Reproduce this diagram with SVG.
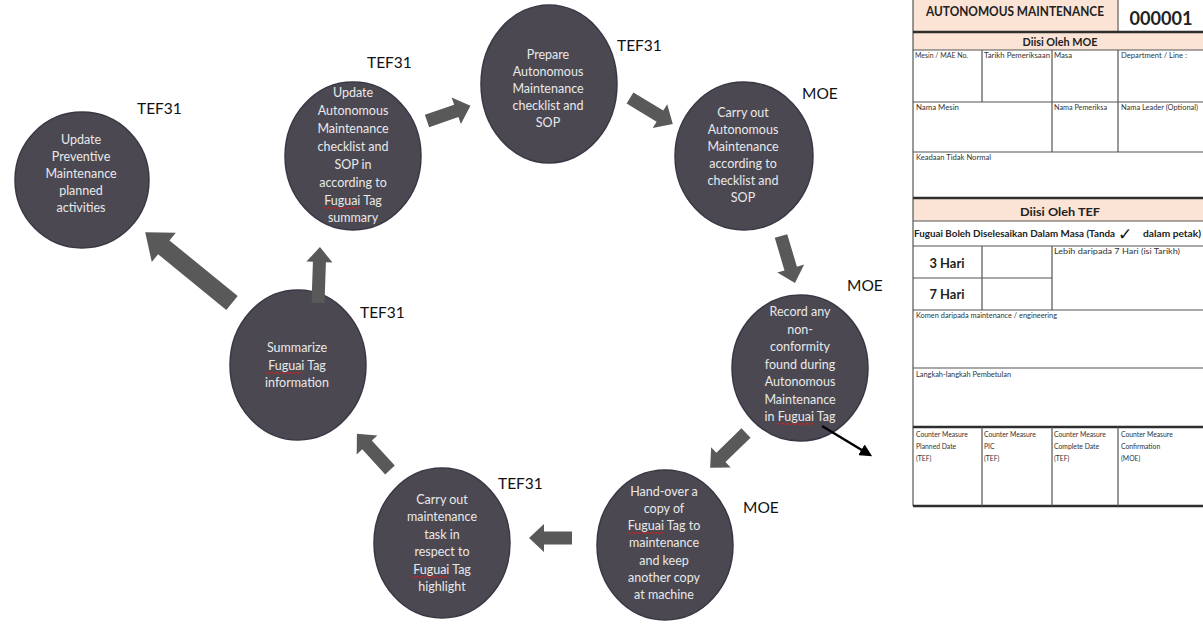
<svg xmlns="http://www.w3.org/2000/svg" xmlns:xlink="http://www.w3.org/1999/xlink" width="1203" height="625" viewBox="0 0 1203 625">
  <style>
    .bubble { fill: #4b4852; stroke: #3a3745; stroke-width: 1.5; }
    .step { font-family: Lato, "Liberation Sans", sans-serif; font-size: 12.5px; fill: #e9e9e9; text-anchor: middle; }
    .role { font-family: Lato, "Liberation Sans", sans-serif; font-size: 15.5px; fill: #111; }
    .flow { fill: #595959; }
    .squiggle { fill: none; stroke: #d42020; stroke-width: 1; }
    .cell { fill: none; stroke: #666; stroke-width: 1.2; }
    .rule { stroke: #555; stroke-width: 1.2; }
    .heavy { stroke: #2e2e2e; stroke-width: 2.5; }
    .band { fill: #fbe4d5; }
    .lbl { font-family: Lato, "Liberation Sans", sans-serif; font-size: 6.8px; fill: #333; }
    .hd { font-family: Lato, "Liberation Sans", sans-serif; font-weight: bold; fill: #222; }
  </style>
  <defs>
    <path id="wavy" class="squiggle" d="M0,0 q1.2,-1.6 2.4,0 t2.4,0 t2.4,0 t2.4,0 t2.4,0 t2.4,0 t2.4,0 t2.4,0 t2.4,0 t2.4,0 t2.4,0 t2.4,0 t2.4,0 t2.4,0 t2.4,0"/>
    <marker id="tip" viewBox="0 0 10 10" refX="8" refY="5" markerWidth="5" markerHeight="5" orient="auto" markerUnits="strokeWidth">
      <path d="M0,0 L10,5 L0,10 z" fill="#000"/>
    </marker>
  </defs>

  <rect width="1203" height="625" fill="#fff"/>

  <!-- process steps -->
  <g id="step-update-pm">
    <ellipse class="bubble" cx="82" cy="180" rx="67" ry="68"/>
    <text class="step" x="81" y="144">Update</text>
    <text class="step" x="81" y="161">Preventive</text>
    <text class="step" x="81" y="178">Maintenance</text>
    <text class="step" x="81" y="195">planned</text>
    <text class="step" x="81" y="212">activities</text>
    <text class="role" x="137" y="114">TEF31</text>
  </g>

  <g id="step-update-am">
    <ellipse class="bubble" cx="353" cy="156" rx="68" ry="74"/>
    <text class="step" x="353" y="97">Update</text>
    <text class="step" x="353" y="115">Autonomous</text>
    <text class="step" x="353" y="133">Maintenance</text>
    <text class="step" x="353" y="151">checklist and</text>
    <text class="step" x="353" y="169">SOP in</text>
    <text class="step" x="353" y="187">according to</text>
    <text class="step" x="353" y="205">Fuguai Tag</text>
    <text class="step" x="353" y="222">summary</text>
    <use href="#wavy" x="323" y="208" transform="scale(1)"/>
    <text class="role" x="367" y="68">TEF31</text>
  </g>

  <g id="step-prepare-am">
    <ellipse class="bubble" cx="549" cy="84" rx="68" ry="79"/>
    <text class="step" x="548" y="59">Prepare</text>
    <text class="step" x="548" y="76">Autonomous</text>
    <text class="step" x="548" y="93">Maintenance</text>
    <text class="step" x="548" y="110">checklist and</text>
    <text class="step" x="548" y="127">SOP</text>
    <text class="role" x="617" y="51">TEF31</text>
  </g>

  <g id="step-carry-out-am">
    <ellipse class="bubble" cx="744" cy="156" rx="69" ry="74"/>
    <text class="step" x="743" y="117">Carry out</text>
    <text class="step" x="743" y="134">Autonomous</text>
    <text class="step" x="743" y="151">Maintenance</text>
    <text class="step" x="743" y="168">according to</text>
    <text class="step" x="743" y="185">checklist and</text>
    <text class="step" x="743" y="202">SOP</text>
    <text class="role" x="802" y="99">MOE</text>
  </g>

  <g id="step-record">
    <ellipse class="bubble" cx="800" cy="368" rx="68" ry="73"/>
    <text class="step" x="800" y="316">Record any</text>
    <text class="step" x="800" y="333.5">non-</text>
    <text class="step" x="800" y="351">conformity</text>
    <text class="step" x="800" y="368.5">found during</text>
    <text class="step" x="800" y="386">Autonomous</text>
    <text class="step" x="800" y="403.5">Maintenance</text>
    <text class="step" x="800" y="421">in Fuguai Tag</text>
    <use href="#wavy" x="777" y="424"/>
    <text class="role" x="847" y="291">MOE</text>
  </g>

  <g id="step-hand-over">
    <ellipse class="bubble" cx="665" cy="545" rx="68" ry="75"/>
    <text class="step" x="664" y="496">Hand-over a</text>
    <text class="step" x="664" y="513">copy of</text>
    <text class="step" x="664" y="530">Fuguai Tag to</text>
    <text class="step" x="664" y="547">maintenance</text>
    <text class="step" x="664" y="565">and keep</text>
    <text class="step" x="664" y="582">another copy</text>
    <text class="step" x="664" y="599">at machine</text>
    <use href="#wavy" x="627" y="533"/>
    <text class="role" x="743" y="513">MOE</text>
  </g>

  <g id="step-maintenance-task">
    <ellipse class="bubble" cx="442" cy="543" rx="68" ry="75"/>
    <text class="step" x="442" y="504">Carry out</text>
    <text class="step" x="442" y="521.4">maintenance</text>
    <text class="step" x="442" y="538.8">task in</text>
    <text class="step" x="442" y="556">respect to</text>
    <text class="step" x="442" y="573.6">Fuguai Tag</text>
    <text class="step" x="442" y="591">highlight</text>
    <use href="#wavy" x="411" y="577"/>
    <text class="role" x="498" y="489">TEF31</text>
  </g>

  <g id="step-summarize">
    <ellipse class="bubble" cx="298" cy="365" rx="68" ry="75"/>
    <text class="step" x="297" y="352">Summarize</text>
    <text class="step" x="297" y="370">Fuguai Tag</text>
    <text class="step" x="297" y="387">information</text>
    <use href="#wavy" x="266" y="373"/>
    <text class="role" x="360" y="318">TEF31</text>
  </g>

  <!-- connectors: block arrows drawn along +x, then placed -->
  <g id="connectors">
    <polygon class="flow" transform="translate(232,303) rotate(219.2)" points="0,-9 88,-9 88,-19 112,0 88,19 88,9 0,9"/>
    <polygon class="flow" transform="translate(318,303) rotate(-88)" points="0,-6.5 41,-6.5 41,-13 56,0 41,13 41,6.5 0,6.5"/>
    <polygon class="flow" transform="translate(427,121) rotate(-19.2)" points="0,-6.5 31,-6.5 31,-14 46,0 31,14 31,6.5 0,6.5"/>
    <polygon class="flow" transform="translate(630,98) rotate(31.2)" points="0,-6.5 35,-6.5 35,-14 50,0 35,14 35,6.5 0,6.5"/>
    <polygon class="flow" transform="translate(781,236) rotate(73.4)" points="0,-6.5 34,-6.5 34,-14 49,0 34,14 34,6.5 0,6.5"/>
    <polygon class="flow" transform="translate(746,433) rotate(135.8)" points="0,-6.5 35,-6.5 35,-14 50,0 35,14 35,6.5 0,6.5"/>
    <polygon class="flow" transform="translate(572,538) rotate(180)" points="0,-6.5 28,-6.5 28,-14 43,0 28,14 28,6.5 0,6.5"/>
    <polygon class="flow" transform="translate(390,470) rotate(227.5)" points="0,-6.5 34,-6.5 34,-14 49,0 34,14 34,6.5 0,6.5"/>
    <line x1="822" y1="426" x2="870" y2="455" stroke="#000" stroke-width="2.5" marker-end="url(#tip)"/>
  </g>

  <!-- Fuguai tag form -->
  <g id="form">
    <rect class="band" x="913" y="0" width="204" height="31"/>
    <rect x="1119" y="0" width="90" height="31" fill="#fff"/>
    <rect class="band" x="913" y="33" width="295" height="17"/>
    <rect class="band" x="913" y="199" width="295" height="22"/>

    <!-- outer frame and rules -->
    <line class="rule" x1="913" y1="0" x2="913" y2="506"/>
    <line class="rule" x1="1118" y1="0" x2="1118" y2="31"/>
    <line class="heavy" x1="913" y1="32" x2="1203" y2="32"/>
    <line class="rule" x1="913" y1="50" x2="1203" y2="50"/>
    <line class="rule" x1="913" y1="102" x2="1203" y2="102"/>
    <line class="rule" x1="913" y1="152" x2="1203" y2="152"/>
    <line class="heavy" x1="913" y1="198" x2="1203" y2="198"/>
    <line class="rule" x1="913" y1="221" x2="1203" y2="221"/>
    <line class="rule" x1="913" y1="246" x2="1203" y2="246"/>
    <line class="rule" x1="913" y1="278" x2="1052" y2="278"/>
    <line class="rule" x1="913" y1="310" x2="1203" y2="310"/>
    <line class="rule" x1="913" y1="368" x2="1203" y2="368"/>
    <line class="heavy" x1="913" y1="427" x2="1203" y2="427"/>
    <line class="heavy" x1="913" y1="506" x2="1203" y2="506"/>

    <line class="rule" x1="982" y1="50" x2="982" y2="102"/>
    <line class="rule" x1="1052" y1="50" x2="1052" y2="152"/>
    <line class="rule" x1="1118" y1="50" x2="1118" y2="152"/>
    <line class="rule" x1="982" y1="246" x2="982" y2="310"/>
    <line class="rule" x1="1052" y1="246" x2="1052" y2="310"/>
    <line class="rule" x1="982" y1="427" x2="982" y2="506"/>
    <line class="rule" x1="1052" y1="427" x2="1052" y2="506"/>
    <line class="rule" x1="1118" y1="427" x2="1118" y2="506"/>

    <text class="hd" x="1015" y="16" font-size="13" text-anchor="middle" textLength="178" lengthAdjust="spacingAndGlyphs">AUTONOMOUS MAINTENANCE</text>
    <text class="hd" x="1161" y="25" font-size="19" text-anchor="middle" textLength="63" lengthAdjust="spacingAndGlyphs">000001</text>
    <text class="hd" x="1060" y="46" font-size="11" text-anchor="middle" textLength="75" lengthAdjust="spacingAndGlyphs">Diisi Oleh MOE</text>

    <text class="lbl" x="915" y="58" textLength="53" lengthAdjust="spacingAndGlyphs">Mesin / MAE No.</text>
    <text class="lbl" x="984" y="58" textLength="66" lengthAdjust="spacingAndGlyphs">Tarikh Pemeriksaan</text>
    <text class="lbl" x="1054" y="58" textLength="18" lengthAdjust="spacingAndGlyphs">Masa</text>
    <text class="lbl" x="1121" y="58" textLength="66" lengthAdjust="spacingAndGlyphs">Department / Line :</text>

    <text class="lbl" x="916" y="110" textLength="43" lengthAdjust="spacingAndGlyphs">Nama Mesin</text>
    <text class="lbl" x="1054" y="110" textLength="53" lengthAdjust="spacingAndGlyphs">Nama Pemeriksa</text>
    <text class="lbl" x="1121" y="110" textLength="77" lengthAdjust="spacingAndGlyphs">Nama Leader (Optional)</text>

    <text class="lbl" x="916" y="160" textLength="75" lengthAdjust="spacingAndGlyphs">Keadaan Tidak Normal</text>

    <text class="hd" x="1060" y="216" font-size="12" text-anchor="middle" textLength="80" lengthAdjust="spacingAndGlyphs">Diisi Oleh TEF</text>

    <text class="hd" x="914" y="237" font-size="8.8" textLength="201" lengthAdjust="spacingAndGlyphs">Fuguai Boleh Diselesaikan Dalam Masa (Tanda</text>
    <text x="1118" y="240" font-family="DejaVu Sans, sans-serif" font-size="17" fill="#111">✓</text>
    <text class="hd" x="1143" y="237" font-size="8.8" textLength="58" lengthAdjust="spacingAndGlyphs">dalam petak)</text>

    <text class="hd" x="947" y="268" font-size="12.5" text-anchor="middle" textLength="35" lengthAdjust="spacingAndGlyphs">3 Hari</text>
    <text class="hd" x="947" y="299" font-size="12.5" text-anchor="middle" textLength="35" lengthAdjust="spacingAndGlyphs">7 Hari</text>
    <text class="lbl" x="1054" y="254" textLength="126" lengthAdjust="spacingAndGlyphs">Lebih daripada 7 Hari (isi Tarikh)</text>

    <text class="lbl" x="916" y="318" textLength="141" lengthAdjust="spacingAndGlyphs">Komen daripada maintenance / engineering</text>
    <text class="lbl" x="916" y="377" textLength="95" lengthAdjust="spacingAndGlyphs">Langkah-langkah Pembetulan</text>

    <g class="lbl">
      <text x="916" y="437">Counter Measure</text>
      <text x="916" y="449">Planned Date</text>
      <text x="916" y="461">(TEF)</text>
      <text x="984" y="437">Counter Measure</text>
      <text x="984" y="449">PIC</text>
      <text x="984" y="461">(TEF)</text>
      <text x="1054" y="437">Counter Measure</text>
      <text x="1054" y="449">Complete Date</text>
      <text x="1054" y="461">(TEF)</text>
      <text x="1121" y="437">Counter Measure</text>
      <text x="1121" y="449">Confirmation</text>
      <text x="1121" y="461">(MOE)</text>
    </g>
  </g>
</svg>
